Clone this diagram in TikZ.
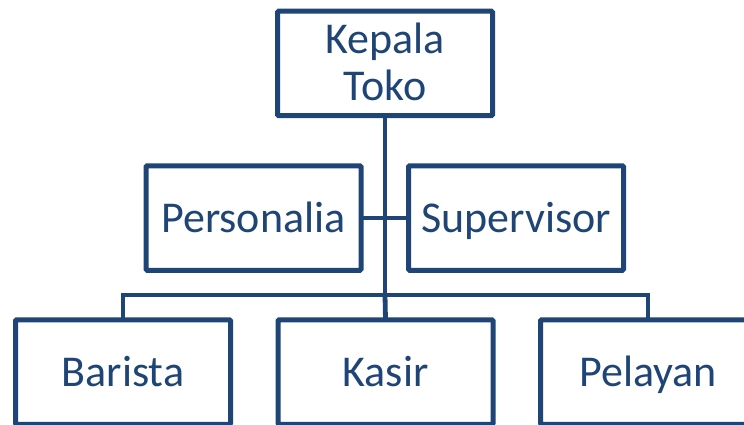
\documentclass[tikz,border=0pt]{standalone}
\usepackage{fontspec}
\setmainfont{Carlito}
\definecolor{navy}{RGB}{31,68,118}
\begin{document}
\begin{tikzpicture}[x=1pt,y=-1pt,
  boxbase/.style={draw=navy, fill=white, line width=5pt, rounded corners=1.2pt,
    minimum width=215pt, minimum height=104.5pt, inner sep=0pt, outer sep=0pt,
    text=navy, font=\fontsize{44}{47}\selectfont},
  onebox/.style={boxbase, text height=28pt, text depth=0pt},
  link/.style={draw=navy, line width=4.8pt}]
\useasboundingbox (0,0) rectangle (744,425);
\clip (0,0) rectangle (744,425);
\coordinate (bar) at (385,295);
\node[boxbase, align=center, text height=75pt, text depth=0pt] (top) at (385,63.5) {Kepala\\Toko};
\node[onebox] (personalia) at (253.5,218) {Personalia};
\node[onebox] (supervisor) at (516,218) {Supervisor};
\node[onebox] (barista) at (123,372) {Barista};
\node[onebox] (kasir) at (385.5,372) {Kasir};
\node[onebox] (pelayan) at (648,372) {Pelayan};
\draw[link] (top.south) -- (bar);
\draw[link] (personalia.east) -- (supervisor.west);
\draw[link] (barista.north) |- (bar) -| (pelayan.north);
\draw[link] (bar) -- (kasir.north);
\end{tikzpicture}
\end{document}
